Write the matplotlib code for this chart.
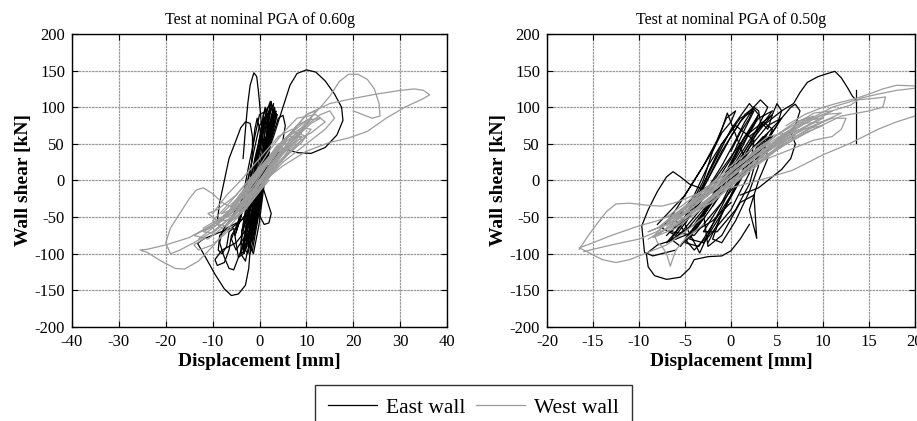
import matplotlib
matplotlib.use("Agg")
import matplotlib.pyplot as plt
from matplotlib.lines import Line2D
import numpy as np

plt.rcParams["font.family"] = ["Liberation Serif", "DejaVu Serif"]
plt.rcParams["axes.unicode_minus"] = False

# ---------------------------------------------------------------------------
# Data: (displacement [mm], wall shear [kN])
# ---------------------------------------------------------------------------
# Left panel: nominal PGA 0.60g, east wall (black)
left_east = [
    [(-1, -5), (1, 25), (3, 60), (5, 100), (6.5, 130), (8, 146), (10, 151), (12, 148),
     (14, 136), (16, 118), (17.5, 100), (17.8, 82), (16.5, 62), (14, 45), (11, 37),
     (8, 38), (6, 42), (4, 38), (2, 20), (0, 0), (-1, -20)],
    [(-3.5, 30), (-3, 70), (-2.5, 105), (-2, 130), (-1.2, 147), (-0.6, 142), (-0.2, 120),
     (0.3, 85), (0.8, 45), (1, 15), (0.5, -10)],
    [(0.5, 5), (-1, -25), (-3, -50), (-6, -65), (-9, -72), (-12, -80), (-13.2, -86),
     (-11.5, -105), (-9.5, -128), (-7.5, -148), (-6, -157), (-4.5, -155), (-3, -143),
     (-2.3, -120), (-2, -95), (-1.5, -65), (-0.5, -35), (0.5, -10)],
    [(-1, -50), (-3, -80), (-4.5, -105), (-5.5, -122), (-6.5, -120), (-7.5, -105),
     (-8.5, -85), (-8, -70), (-7, -60), (-5, -45), (-3, -30)],
    [(-2, -60), (-5, -85), (-8, -95), (-9.5, -108), (-9, -116), (-7.5, -112), (-6.5, -95),
     (-6, -75), (-4, -55)],
    [(-9, -55), (-8.5, -30), (-7.5, 0), (-6.5, 30), (-5, 55), (-4, 72), (-3, 80), (-2, 78),
     (-1.5, 60), (-1.5, 30), (-2.5, 0), (-4, -30), (-6, -50)],
    [(0, 20), (2, 45), (3, 65), (4, 85), (5, 89), (5.5, 75), (5, 55), (3.5, 35), (2, 20)],
    [(0.5, -5), (1.5, -25), (2.5, -45), (2, -58), (1, -60), (0, -48), (-0.5, -30)],
    [(-1, -30), (-4, -55), (-7, -65), (-8.5, -75), (-8.8, -95), (-8, -100), (-7, -90),
     (-6.5, -70), (-5.5, -65), (-5, -85), (-4.5, -105), (-3.5, -100), (-3, -80),
     (-2.5, -60), (-1.5, -45)],
    [(-3, -90), (-1, -40), (0.5, 20), (2, 80), (2.5, 100), (1.5, 85), (0, 40), (-1.5, -20),
     (-3, -70), (-3.5, -95), (-2, -75), (-0.5, -20), (1, 40), (2.8, 95), (3, 105), (2, 90),
     (0.5, 45), (-1, -10), (-2.5, -60), (-4, -100), (-3, -95), (-1.5, -50), (0, 0),
     (1.5, 60), (2, 95), (1, 80), (-0.5, 30), (-2, -30), (-3.2, -80), (-2, -85),
     (-0.5, -40), (0.8, 10), (2.2, 70), (1.2, 100), (0.3, 70), (-1, 20), (-2.5, -40),
     (-4, -85), (-2.5, -100), (-1, -60), (0.2, -10), (1.8, 50), (3.5, 95), (2.5, 75),
     (0.8, 30), (-0.8, -25), (-2.8, -75)],
    [(-2, -100), (-0.5, -55), (1, 0), (2, 50), (3, 85), (2.2, 60), (0.5, 10), (-1, -40),
     (-2.5, -90), (-1.5, -80), (0, -30), (1.5, 30), (-0.5, 85), (-1, 70), (-1.5, 40),
     (-2, 0), (-3, -50), (-3.8, -70), (-2.8, -55), (-1.5, -10), (0, 45), (0.8, 90),
     (1.8, 100), (0.5, 70), (-1, 30), (-2.2, -10), (-3.5, -60), (-2.5, -65), (-1, -25),
     (0.5, 20), (1.2, 70), (2.5, 108), (2.8, 90), (1, 50), (-0.5, 0), (-2, -55)],
    [(-1.5, -95), (0, -40), (1.5, 20), (2.5, 70), (3.2, 100), (2.6, 85), (1.2, 40),
     (-0.3, -10), (-1.8, -60), (-3.3, -100), (-2.6, -80), (-1, -35), (0.6, 25), (1.9, 80),
     (2.3, 108), (1.6, 95), (0.2, 50), (-1.3, 0), (-2.7, -55), (-3.6, -90), (-2.2, -70),
     (-0.8, -15), (0.9, 35), (2.6, 90), (3.3, 98), (2.1, 65), (0.4, 15), (-1.1, -30),
     (-2.4, -85), (-1.3, -100), (-0.1, -60), (1.2, 5), (2.4, 55), (3.6, 92), (2.9, 70),
     (1.5, 20), (-0.2, -20), (-1.9, -70), (-3, -95)],
    [(-5, -70), (-3.5, -40), (-2, 0), (-0.5, 40), (0.5, 70), (1.5, 95), (0, 90), (-1, 60),
     (-2.3, 20), (-3.5, -20), (-4.5, -55), (-6, -80), (-5, -95), (-3, -75), (-1.5, -40),
     (0, 0), (1.5, 45), (3, 80), (3.8, 90), (3, 70), (1.8, 40), (0.3, -5), (-1, -50),
     (-2, -80), (-3, -110), (-4, -100), (-3.8, -70), (-2.5, -30), (-1, 10), (0.5, 55),
     (1, 85), (0, 75), (-1.2, 40), (-2.8, -10), (-4, -50), (-5.2, -75)],
]

# Left panel: west wall (grey)
left_west = [
    [(-3, -20), (2, 15), (6, 50), (10, 80), (13, 100), (15, 115), (17, 135), (19, 145),
     (21, 145), (23, 138), (24.5, 125), (25.5, 105), (25.7, 88), (24, 85), (22, 90), (20, 95)],
    [(0, 0), (5, 50), (10, 90), (15, 105), (20, 112), (25, 118), (30, 123), (33, 125),
     (35, 123), (36.3, 117), (35, 112), (31, 100), (27, 85), (23, 67), (19, 58), (15, 52),
     (10, 40), (5, 20), (0, -5)],
    [(5, 40), (10, 75), (13, 90), (15, 95), (16, 85), (14, 70), (10, 50), (5, 25)],
    [(5, 25), (0, -10), (-5, -35), (-10, -60), (-15, -78), (-20, -88), (-24, -94),
     (-25.5, -95), (-24, -98), (-21, -110), (-18, -120), (-16, -121), (-13, -110),
     (-10, -90), (-6, -60), (-2, -30), (2, 0)],
    [(-5, -40), (-8, -30), (-10, -18), (-12, -10), (-13.5, -13), (-15, -25), (-17, -45),
     (-19, -65), (-20, -85), (-19, -100), (-17, -95), (-14, -85), (-10, -70), (-6, -50)],
    [(-12, -80), (-14, -88), (-13, -95), (-10, -88), (-6, -65)],
    [(-13, -80), (-8, -55), (-3, -25), (2, 10), (6, 45), (9, 70), (11, 85), (8, 75), (4, 45),
     (0, 10), (-4, -25), (-9, -60), (-12, -70), (-10, -72), (-6, -50), (-1, -10), (3, 25),
     (7, 55), (10, 75), (12, 95), (10, 90), (6, 60), (2, 25), (-2, -15), (-6, -45),
     (-11, -65), (-14, -75), (-11, -80), (-7, -60), (-3, -30), (1, 5), (5, 40), (8, 60),
     (11, 78), (13, 85), (10, 82), (5, 55), (1, 20), (-3, -20), (-8, -50), (-12, -65)],
    [(-8, -45), (-4, -35), (0, -5), (4, 30), (8, 55), (11, 65), (14, 80), (12, 90), (8, 85),
     (5, 65), (2, 40), (-1, 10), (-5, -20), (-9, -40), (-11, -45), (-9, -55), (-5, -45),
     (-1, -20), (3, 15), (6, 35), (9, 55), (7, 70), (4, 60), (0, 30), (-4, 0), (-7, -20),
     (-10, -45)],
    [(-5, -45), (0, 0), (5, 45), (3, 40), (-2, -5), (-6, -40), (-4, -40), (1, 5), (6, 50),
     (4, 50), (-1, 5), (-5, -30), (-3, -35), (2, 15), (7, 60)],
    [(-10, -70), (-6, -50), (-2, -20), (2, 15), (5, 40), (8, 60), (6, 55), (2, 25), (-2, -10),
     (-6, -40), (-9, -60), (-7, -62), (-3, -35), (1, 0), (4, 30), (7, 50), (9, 65), (7, 65),
     (3, 40), (-1, 5), (-5, -28), (-8, -55), (-5, -52), (-1, -22), (3, 12), (6, 40),
     (9, 60), (6, 60), (2, 30), (-2, 0), (-6, -35)],
    [(-7, -60), (-3, -40), (0, -15), (3, 15), (6, 35), (9, 52), (11, 70), (9, 72), (5, 55),
     (1, 25), (-3, -5), (-7, -35), (-10, -55), (-8, -65), (-4, -45), (0, -10), (4, 25),
     (8, 50), (10, 60), (8, 65), (4, 45), (0, 15), (-4, -20), (-8, -45)],
]

# Right panel: nominal PGA 0.50g, east wall (black)
right_east = [
    [(2, 60), (4, 80), (5.5, 95), (6.8, 105), (7.5, 120), (8.3, 134), (9.5, 142),
     (10.5, 146), (11.3, 149), (12, 140), (12.7, 126), (13.2, 115), (13.6, 110)],
    [(13.6, 124), (13.6, 51)],
    [(0, -30), (-2, -55), (-4, -70), (-6, -80), (-8, -88), (-9.2, -100), (-9, -118),
     (-8.3, -130), (-7, -135), (-5.5, -132), (-4.5, -120), (-4, -108), (-2.5, -104),
     (-1, -103), (0, -96), (1, -80), (2, -60)],
    [(-6, -95), (-8.5, -103), (-9.4, -98), (-9.7, -62), (-9, -40), (-8, -15), (-7, 5),
     (-6.3, 12), (-5.5, 5), (-4.5, -5), (-3, -12), (-1.5, 0)],
    [(-6, -80), (-2, -20), (1, 40), (3, 90), (2, 105), (0, 70), (-2, 20), (-4, -30),
     (-6, -70), (-7, -85), (-4, -60), (-1, -10), (2, 50), (4, 100), (3.2, 110), (1, 80),
     (-1, 40), (-3, -10), (-5, -60), (-3.4, -99), (-2, -60), (0, -10), (1.5, 30),
     (-0.4, 92), (-1, 70), (-2, 40), (-3, 0), (-5, -50), (-6.5, -70), (-4, -75), (-1, -30),
     (1, 20), (3, 70), (4.5, 95), (3, 85), (1, 50), (-1, 0), (-3, -45), (-2.5, -90),
     (-1, -75), (1, -30), (2.5, -20), (2.8, -79), (2, -40), (3, 0), (4, 30), (3.5, 60),
     (1, 25), (-2, -20), (-4.5, -80), (-3, -85), (0, -40), (2, 10), (2.5, 55), (0.5, 75),
     (-1, 50), (-2.5, 10), (-4, -40)],
    [(-5, -55), (-2, -10), (0, 30), (1.5, 70), (2.5, 95), (1, 85), (-1, 50), (-2.5, 20),
     (-4, -20), (-6, -55), (-5, -70), (-3, -40), (-0.5, 10), (1.5, 60), (3.5, 80),
     (4.5, 70), (3.5, 40), (1.5, 10), (-1, -30), (-3, -70), (-1.5, -70), (0.5, -40),
     (2, -5), (3, 40), (5, 75), (5.5, 85), (4, 75), (2, 45), (0, 5), (-2, -35)],
    [(-7, -75), (-5, -50), (-3, -20), (-1, 20), (0.5, 55), (1.5, 80), (2.5, 100), (1.5, 90),
     (0, 60), (-1.5, 25), (-3, -10), (-4.5, -45), (-6.5, -80), (-5.5, -90), (-4, -65),
     (-2, -30), (0, 10), (2, 50), (3.5, 75), (4.5, 90), (3.5, 80), (2, 55), (0.5, 25),
     (-1.5, -15), (-3.5, -60), (-5, -85), (-3.5, -90), (-2, -60), (0, -20), (1.5, 15),
     (3, 50), (4, 65), (3, 40), (1, 0), (-1, -45), (-2, -80), (-1, -85), (0.5, -55),
     (2, -15), (3, 20), (2.5, 40), (0.5, 10), (-2, -35), (-4, -70)],
    [(-8, -60), (-6.5, -40), (-5, -20), (-3.5, 10), (-2, 40), (-1, 65), (0, 80), (0.5, 95),
     (-0.5, 85), (-1.5, 55), (-3, 20), (-4.5, -10), (-6, -40), (-7.5, -65), (-6, -75),
     (-4.5, -50), (-3, -20), (-1, 15), (1, 50), (2, 70), (3, 90), (2.5, 75), (1, 45),
     (-0.5, 10), (-2, -25), (-3.5, -55), (-5, -80), (-4, -95), (-2.5, -75), (-1, -45),
     (0.5, -10), (2, 25), (3.5, 45), (4.5, 60), (3.5, 55), (1.5, 20), (0, -20),
     (-1.5, -60), (-2.5, -85)],
    [(0, 40), (1, 65), (2, 85), (2.5, 100), (3, 95), (3.2, 80), (4, 70), (4.5, 90), (5, 105),
     (5.5, 95), (5, 75), (4, 55), (3, 40), (2, 30), (1, 20), (0, 10)],
    [(2, 40), (4, 65), (5.5, 85), (6.5, 100), (7, 104), (7.5, 95), (7, 75), (6, 60),
     (4.5, 45), (3, 30)],
    [(1, -20), (3, -10), (4.5, 5), (5.5, 15), (6.5, 30), (7, 50), (6.5, 65), (5, 55),
     (3.5, 35), (2, 15)],
]

# Right panel: west wall (grey)
right_west = [
    [(0, 5), (4, 45), (7, 70), (9, 85), (11, 95), (13, 103), (13.6, 108), (14, 112),
     (16, 118), (18, 123), (20, 126), (21, 127)],
    [(21, 128), (20, 129), (18, 130), (16.5, 125), (15, 118), (13.6, 112), (12, 107),
     (10, 100), (8, 90), (6, 75)],
    [(5, 55), (8, 80), (11, 100), (13.6, 110), (15.5, 112), (16.8, 114), (16.5, 100),
     (15, 95), (12, 88), (9, 70), (6, 50)],
    [(0, -10), (3, 0), (6.7, 14), (10, 35), (13, 51), (16, 70), (18, 80), (20, 88), (21, 90)],
    [(2, 20), (6, 40), (9, 55), (11, 60), (12, 70), (12.5, 85), (11, 85), (8, 70), (5, 50)],
    [(-3, -25), (-6, -45), (-8, -55), (-10, -62), (-13, -75), (-15, -85), (-16.5, -92),
     (-16, -95), (-14, -108), (-12.5, -112), (-11, -108), (-9, -98), (-7, -88), (-5, -70),
     (-3, -50)],
    [(-16.5, -94), (-15.5, -75), (-14.5, -58), (-13.5, -42), (-12.5, -32), (-11, -31),
     (-9, -34), (-7.5, -35), (-6, -30), (-4, -20), (-2, -10)],
    [(-16, -97), (-13, -88), (-10, -80), (-7.7, -68)],
    [(-3, -60), (-5, -80), (-6, -95), (-6.6, -117), (-7, -100), (-7.5, -90), (-8, -85),
     (-8.3, -75), (-6, -60)],
    [(-8, -75), (-4, -35), (0, 5), (4, 45), (7, 75), (9, 88), (7, 80), (3, 45), (-1, 5),
     (-5, -35), (-8, -65), (-9, -70), (-6, -55), (-2, -15), (2, 25), (6, 60), (9, 80),
     (11, 95), (9, 92), (5, 62), (1, 22), (-3, -18), (-7, -55), (-8.5, -78), (-6, -65),
     (-2, -28), (2, 12), (5, 42), (8, 65), (10, 75), (7, 68), (3, 35), (-1, -5), (-4, -35),
     (-7, -60)],
    [(-5, -45), (-1, -5), (3, 35), (6, 65), (4, 60), (0, 20), (-4, -25), (-6, -50),
     (-3, -35), (1, 8), (5, 50), (7, 62), (4, 40), (0, 0), (-4, -40), (-2, -30), (2, 15),
     (6, 55), (3, 45), (-1, 0), (-5, -38)],
    [(-7, -70), (-3, -30), (1, 10), (5, 50), (8, 72), (10, 85), (8, 82), (4, 50), (0, 12),
     (-4, -28), (-7, -58), (-6, -62), (-2, -25), (2, 15), (6, 52), (9, 75), (12, 92),
     (10, 90), (6, 65), (2, 28), (-2, -12), (-6, -48), (-8, -70)],
    [(-9, -80), (-5, -50), (-1, -15), (3, 25), (6, 50), (4, 50), (0, 15), (-4, -22),
     (-7, -50), (-5, -52), (-1, -12), (3, 28), (7, 60), (10, 80), (8, 78), (4, 45), (0, 5),
     (-4, -32), (-7, -62)],
]

TITLES = ["Test at nominal PGA of 0.60g", "Test at nominal PGA of 0.50g"]
XLIMS = [(-40, 40), (-20, 20)]
XSTEPS = [10, 5]
YTICKS = list(range(-200, 201, 50))

EAST_COLOR = "#000000"
WEST_COLOR = "#9c9c9c"

fig = plt.figure(figsize=(9.17, 4.21), dpi=100)
ax_l = fig.add_axes([0.0785, 0.2233, 0.409, 0.696])
ax_r = fig.add_axes([0.5965, 0.2233, 0.4013, 0.696])

panels = [(ax_l, left_east, left_west), (ax_r, right_east, right_west)]
for i, (ax, east, west) in enumerate(panels):
    for tr in east:
        a = np.array(tr)
        ax.plot(a[:, 0], a[:, 1], color=EAST_COLOR, lw=0.9)
    for tr in west:
        a = np.array(tr)
        ax.plot(a[:, 0], a[:, 1], color=WEST_COLOR, lw=0.9)
    lo, hi = XLIMS[i]
    ax.set_xlim(lo, hi)
    ax.set_ylim(-200, 200)
    ax.set_xticks(np.arange(lo, hi + 1, XSTEPS[i]))
    ax.set_yticks(YTICKS)
    ax.grid(True, color="#9a9a9a", ls=(0, (2, 0.6)), lw=0.9)
    ax.set_axisbelow(True)
    ax.tick_params(direction="in", top=True, right=True, length=4, labelsize=12, pad=5)
    for s in ax.spines.values():
        s.set_linewidth(1.0)
    ax.set_title(TITLES[i], fontsize=11.5, pad=7)
    ax.set_xlabel("Displacement [mm]", fontsize=14, fontweight="bold", labelpad=2)
    ax.set_ylabel("Wall shear [kN]", fontsize=14, fontweight="bold", labelpad=2)

handles = [Line2D([], [], color=EAST_COLOR, lw=0.9), Line2D([], [], color=WEST_COLOR, lw=0.9)]
leg = fig.legend(handles, ["East wall", "West wall"], loc="upper center",
                 bbox_to_anchor=(0.516, 0.086), ncol=2, fontsize=15.5, frameon=True,
                 fancybox=False, edgecolor="black", handlelength=2.3, handletextpad=0.4,
                 columnspacing=0.5, borderpad=0.6, borderaxespad=0)
leg.get_frame().set_linewidth(1.0)

fig.savefig("out.png", dpi=100)
